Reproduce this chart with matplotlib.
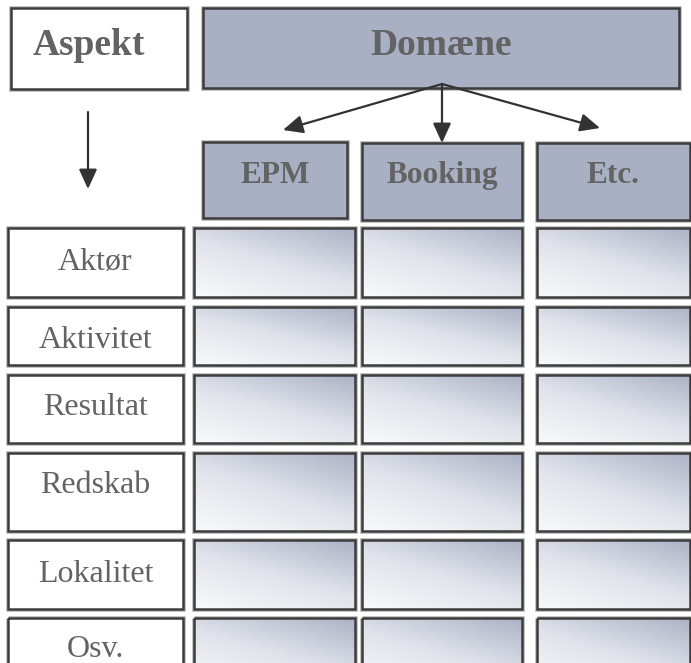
import numpy as np
import matplotlib.pyplot as plt
from matplotlib.patches import Rectangle
from matplotlib.colors import LinearSegmentedColormap

# content
aspects = ['Aktør', 'Aktivitet', 'Resultat', 'Redskab', 'Lokalitet', 'Osv.']
domains = ['EPM', 'Booking', 'Etc.']
top_left = 'Aspekt'
top_right = 'Domæne'

# layout in pixels (y from top)
aspect_box = (11, 8, 187, 89)
domain_box = (203, 8, 679, 88)
domain_cols = [(203, 142, 347, 218), (362, 143, 522, 220), (537, 143, 690, 220)]
label_x = (8, 183)
cell_x = [(194, 355), (362, 522), (537, 690)]
row_y = [(228, 297), (307, 365), (375, 443), (453, 531), (540, 609), (618, 688)]
row_base = [270, 348, 415, 493, 582, 657]
arrow_tips = [(283, 130), (442, 143), (600, 128)]

txt_col = '#636363'
edge = '#3c3c3c'
head_fill = '#aab0c4'
serif = ['Liberation Serif', 'DejaVu Serif']

fig = plt.figure(figsize=(6.91, 6.63), dpi=100)
ax = fig.add_axes([0, 0, 1, 1])
ax.set_xlim(0, 691)
ax.set_ylim(663, 0)
ax.axis('off')

cmap = LinearSegmentedColormap.from_list('cell', ['#f8f9fb', '#e0e3ea', '#adb3c7'])
gx, gy = np.meshgrid(np.linspace(0, 1, 80), np.linspace(0, 1, 40))
grad = 0.6 * (1 - gy) + 0.4 * gx


def box(x0, y0, x1, y1, fill=None):
    ax.add_patch(Rectangle((x0, y0), x1 - x0, y1 - y0, fill=False,
                           edgecolor='#bdbdbd', lw=3.4, zorder=2))
    if fill is not None:
        ax.add_patch(Rectangle((x0, y0), x1 - x0, y1 - y0, facecolor=fill,
                               edgecolor='none', zorder=2.5))
    ax.add_patch(Rectangle((x0, y0), x1 - x0, y1 - y0, fill=False,
                           edgecolor=edge, lw=1.8, zorder=4))


# header boxes
box(*aspect_box, fill='white')
ax.text(89, 55, top_left, ha='center', va='baseline', fontsize=27,
        fontweight='bold', color=txt_col, family=serif, zorder=5)
box(*domain_box, fill=head_fill)
ax.text(441, 55, top_right, ha='center', va='baseline', fontsize=27,
        fontweight='bold', color=txt_col, family=serif, zorder=5)

for (x0, y0, x1, y1), name in zip(domain_cols, domains):
    box(x0, y0, x1, y1, fill=head_fill)
    ax.text((x0 + x1) / 2, 183, name, ha='center', va='baseline', fontsize=22.5,
            fontweight='bold', color=txt_col, family=serif, zorder=5)

# arrows
aprops = dict(arrowstyle='-|>,head_length=1.2,head_width=0.55', color='#333333',
              lw=1.6, shrinkA=0, shrinkB=0)
for tip in arrow_tips:
    ax.annotate('', xy=tip, xytext=(442, 84), arrowprops=aprops, zorder=6)
ax.annotate('', xy=(88, 189), xytext=(88, 112), arrowprops=aprops, zorder=6)

# rows
for (y0, y1), base, name in zip(row_y, row_base, aspects):
    box(label_x[0], y0, label_x[1], y1, fill='white')
    ax.text((label_x[0] + label_x[1]) / 2, base, name, ha='center', va='baseline',
            fontsize=23, color=txt_col, family=serif, zorder=5)
    for x0, x1 in cell_x:
        ax.imshow(grad, cmap=cmap, extent=[x0, x1, y1, y0], origin='upper',
                  aspect='auto', interpolation='bilinear', zorder=3)
        box(x0, y0, x1, y1)

ax.set_xlim(0, 691)
ax.set_ylim(663, 0)
fig.savefig('out.png', dpi=100)
